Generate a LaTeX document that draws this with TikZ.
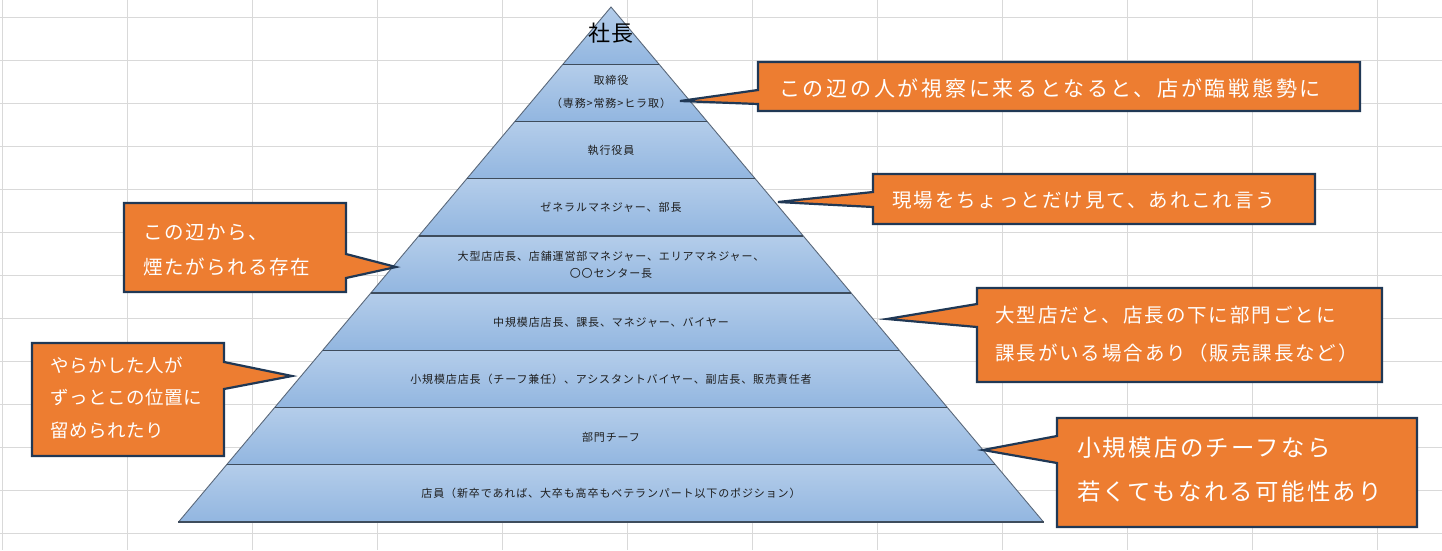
\documentclass[tikz,border=0pt]{standalone}
\usepackage{fontspec}
\setmainfont{Noto Sans CJK JP}
\newfontfamily\jp{Noto Sans CJK JP}
\definecolor{gridc}{RGB}{217,217,217}
\definecolor{bandtop}{RGB}{180,205,234}
\definecolor{bandbot}{RGB}{146,182,224}
\definecolor{bandline}{RGB}{62,76,92}
\definecolor{edgeline}{RGB}{90,104,122}
\definecolor{calloutfill}{RGB}{237,125,49}
\definecolor{calloutline}{RGB}{32,56,85}
\definecolor{smalltext}{RGB}{30,30,30}
\tikzset{
  gridline/.style={draw=gridc, line width=1pt},
  band/.style={top color=bandtop, bottom color=bandbot},
  bandsep/.style={draw=bandline, line width=1.3pt},
  pyredge/.style={draw=edgeline, line width=0.9pt},
  callout/.style={fill=calloutfill, draw=calloutline, line width=2.2pt, line join=miter},
  ptext/.style={inner sep=0pt, text=smalltext, align=center},
  ctext/.style={inner sep=0pt, text=white, align=left, anchor=west},
}
\newcommand{\smallfont}{\fontsize{11}{13}\selectfont\addfontfeature{LetterSpace=8}}
\begin{document}
\begin{tikzpicture}[x=1pt,y=-1pt]
\useasboundingbox (0,0) rectangle (1442,550);
% spreadsheet grid
\foreach \k in {0,...,11} {\draw[gridline] (2.5+125*\k,0) -- (2.5+125*\k,550);}
\foreach \k in {0,...,12} {\draw[gridline] (0,17.3+43*\k) -- (1442,17.3+43*\k);}
% pyramid bands
\foreach \k in {0,...,8} {
  \pgfmathsetmacro\ya{7+57.2222*\k}
  \pgfmathsetmacro\yb{7+57.2222*(\k+1)}
  \pgfmathsetmacro\wa{0.83981*(\ya-7)}
  \pgfmathsetmacro\wb{0.83981*(\yb-7)}
  \path[band] (611-\wa,\ya) -- (611+\wa,\ya) -- (611+\wb,\yb) -- (611-\wb,\yb) -- cycle;
}
\coordinate (apex) at (611,7);
\coordinate (bl) at (178.5,522);
\coordinate (br) at (1043.5,522);
\draw[pyredge] (bl) -- (apex) -- (br);
\foreach \k in {1,...,9} {
  \pgfmathsetmacro\ya{7+57.2222*\k}
  \pgfmathsetmacro\wa{0.83981*(\ya-7)}
  \draw[bandsep] (611-\wa,\ya) -- (611+\wa,\ya);
}
% band texts
\node[ptext, text=black, font={\fontsize{22}{24}\selectfont\addfontfeature{LetterSpace=5}}] (b1) at (611,33) {社長};
\node[ptext, font={\smallfont\baselineskip=23pt}] (b2) at (611,91.5) {取締役\\（専務>常務>ヒラ取）};
\node[ptext, font=\smallfont] (b3) at (611,150) {執行役員};
\node[ptext, font=\smallfont] (b4) at (611,207) {ゼネラルマネジャー、部長};
\node[ptext, font={\smallfont\baselineskip=17pt}] (b5) at (611,264.5) {大型店店長、店舗運営部マネジャー、エリアマネジャー、\\〇〇センター長};
\node[ptext, font=\smallfont] (b6) at (611,322) {中規模店店長、課長、マネジャー、バイヤー};
\node[ptext, font=\smallfont] (b7) at (611,379) {小規模店店長（チーフ兼任）、アシスタントバイヤー、副店長、販売責任者};
\node[ptext, font=\smallfont] (b8) at (611,437) {部門チーフ};
\node[ptext, font=\smallfont] (b9) at (611,493) {店員（新卒であれば、大卒も高卒もベテランパート以下のポジション）};
% callout 1
\coordinate (t1) at (680,101);
\draw[callout] (758,62) -- (1360,62) -- (1360,111) -- (758,111) -- (758,104) -- (t1) -- (758,90) -- cycle;
\node[ctext, font={\fontsize{21}{24}\selectfont\addfontfeature{LetterSpace=13}}] (c1) at (779,88) {この辺の人が視察に来るとなると、店が臨戦態勢に};
% callout 2
\coordinate (t2) at (778,202);
\draw[callout] (873,174) -- (1315,174) -- (1315,224) -- (873,224) -- (873,207) -- (t2) -- (873,192) -- cycle;
\node[ctext, font={\fontsize{19.5}{22}\selectfont\addfontfeature{LetterSpace=10}}] (c2) at (892,200) {現場をちょっとだけ見て、あれこれ言う};
% callout 3
\coordinate (t3) at (396,267);
\draw[callout] (124,203) -- (346,203) -- (346,254) -- (t3) -- (346,278) -- (346,292) -- (124,292) -- cycle;
\node[ctext, font={\fontsize{19.5}{35}\selectfont\addfontfeature{LetterSpace=8}}] (c3) at (143,249.5) {この辺から、\\煙たがられる存在};
% callout 4
\coordinate (t4) at (887,319);
\draw[callout] (977,288) -- (1382,288) -- (1382,382) -- (977,382) -- (977,327) -- (t4) -- (977,304) -- cycle;
\node[ctext, font={\fontsize{19.5}{38}\selectfont\addfontfeature{LetterSpace=10}}] (c4) at (995,334) {大型店だと、店長の下に部門ごとに\\課長がいる場合あり（販売課長など）};
% callout 5
\coordinate (t5) at (292,376);
\draw[callout] (32,343) -- (224,343) -- (224,362) -- (t5) -- (224,389) -- (224,456) -- (32,456) -- cycle;
\node[ctext, font={\fontsize{18.5}{32.5}\selectfont\addfontfeature{LetterSpace=3}}] (c5) at (50,397.5) {やらかした人が\\ずっとこの位置に\\留められたり};
% callout 6
\coordinate (t6) at (983,450);
\draw[callout] (1057,418) -- (1417,418) -- (1417,527) -- (1057,527) -- (1057,463) -- (t6) -- (1057,436) -- cycle;
\node[ctext, font={\fontsize{23.4}{44}\selectfont\addfontfeature{LetterSpace=10}}] (c6) at (1077,470) {小規模店のチーフなら\\若くてもなれる可能性あり};
\end{tikzpicture}
\end{document}
